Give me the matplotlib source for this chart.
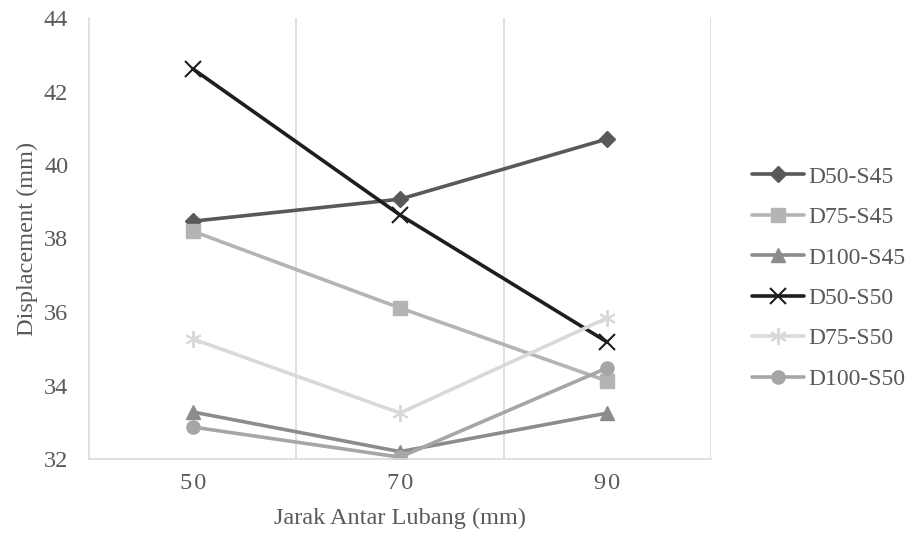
import matplotlib.pyplot as plt
import numpy as np

# data
jarak = ['5\u200a0', '7\u200a0', '9\u200a0']
series_names = ['D50-S45', 'D75-S45', 'D100-S45', 'D50-S50', 'D75-S50', 'D100-S50']
d50_s45 = [38.47, 39.07, 40.71]
d75_s45 = [38.20, 36.11, 34.12]
d100_s45 = [33.28, 32.20, 33.25]
d50_s50 = [42.62, 38.64, 35.18]
d75_s50 = [35.27, 33.25, 35.84]
d100_s50 = [32.87, 32.05, 34.48]

values = [d50_s45, d75_s45, d100_s45, d50_s50, d75_s50, d100_s50]
colors = ['#595959', '#b4b4b4', '#8c8c8c', '#1e1e1e', '#d9d9d9', '#a6a6a6']
markers = ['D', 's', '^', 'x', (6, 2, 0), 'o']
msizes = [8, 9.5, 9.5, 11, 12, 9.5]

plt.rcParams['font.family'] = ['Liberation Serif', 'DejaVu Serif']
txt = '#595959'
fs = 17.5

fig = plt.figure(figsize=(9.14, 5.36), dpi=100)
ax = fig.add_axes([89 / 914, 1 - 459 / 536, (711 - 89) / 914, (459 - 18) / 536])

x = np.arange(len(jarak))
for vals, name, c, m, ms in zip(values, series_names, colors, markers, msizes):
    if m in ('x', (6, 2, 0)):
        ax.plot(x, vals, color=c, lw=2.6, marker=m, ms=ms, mew=1.5, label=name,
                solid_capstyle='round')
    else:
        ax.plot(x, vals, color=c, lw=2.6, marker=m, ms=ms, mec=c, mfc=c, label=name,
                solid_capstyle='round')

ax.set_xlim(-0.5, 2.5)
ax.set_ylim(32, 44)
ax.set_yticks(np.arange(32, 45, 2))
ax.set_xticks(x)
ax.set_xticklabels(jarak)
for xv in [0.5, 1.5, 2.5]:
    ax.axvline(xv, color='#d9d9d9', lw=1.2, zorder=0)

for s in ['top', 'right']:
    ax.spines[s].set_visible(False)
for s in ['left', 'bottom']:
    ax.spines[s].set_color('#d9d9d9')
    ax.spines[s].set_linewidth(1.2)
ax.tick_params(length=0, labelsize=fs, colors=txt)
ax.tick_params(axis='x', pad=10)
ax.tick_params(axis='y', pad=15)

ax.set_xlabel('Jarak Antar Lubang (mm)', fontsize=fs, color=txt, labelpad=10)
ax.set_ylabel('Displacement (mm)', fontsize=fs, color=txt, labelpad=4)

leg = fig.legend(loc='center left', bbox_to_anchor=(752 / 914, 1 - 278 / 536),
                 frameon=False, fontsize=17, handlelength=2.2, labelspacing=0.8,
                 handletextpad=0.2, borderpad=0, borderaxespad=0)
for t in leg.get_texts():
    t.set_color(txt)

fig.savefig('out.png', dpi=100)
